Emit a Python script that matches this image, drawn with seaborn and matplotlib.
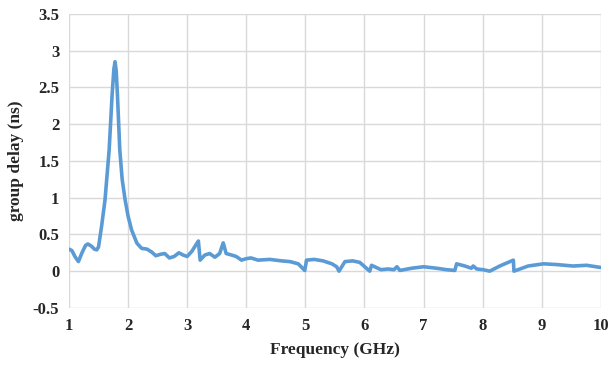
import matplotlib
matplotlib.use("Agg")
import matplotlib.pyplot as plt
import seaborn as sns
import pandas as pd

freq = [1.0, 1.05, 1.10, 1.16, 1.22, 1.28, 1.32, 1.38, 1.43, 1.47, 1.50, 1.55, 1.61, 1.68, 1.73,
        1.76, 1.78, 1.80, 1.82, 1.86, 1.90, 1.95, 2.00, 2.06, 2.15, 2.23, 2.32, 2.40, 2.47, 2.55,
        2.62, 2.70, 2.78, 2.86, 2.93, 3.00, 3.08, 3.15, 3.19, 3.22, 3.30, 3.38, 3.47, 3.55,
        3.61, 3.66, 3.75, 3.83, 3.92, 4.00, 4.08, 4.2, 4.4, 4.6, 4.74, 4.88, 4.99, 5.02, 5.15,
        5.3, 5.45, 5.53, 5.57, 5.67, 5.8, 5.92, 6.09, 6.12, 6.2, 6.28, 6.4, 6.5, 6.55, 6.6,
        6.8, 7.0, 7.22, 7.39, 7.53, 7.56, 7.7, 7.81, 7.84, 7.9, 8.01, 8.12, 8.29, 8.52, 8.53,
        8.77, 9.03, 9.25, 9.53, 9.76, 10.0]
delay = [0.30, 0.28, 0.20, 0.13, 0.25, 0.35, 0.37, 0.34, 0.30, 0.29, 0.33, 0.60, 0.97, 1.65, 2.40,
         2.75, 2.85, 2.72, 2.40, 1.65, 1.25, 0.97, 0.75, 0.56, 0.38, 0.31, 0.30, 0.26, 0.21, 0.23,
         0.24, 0.18, 0.20, 0.25, 0.22, 0.20, 0.27, 0.36, 0.41, 0.15, 0.22, 0.24, 0.19, 0.24,
         0.385, 0.24, 0.22, 0.20, 0.15, 0.17, 0.18, 0.15, 0.16, 0.14, 0.13, 0.10, 0.01, 0.15, 0.16,
         0.14, 0.10, 0.06, 0.00, 0.13, 0.14, 0.12, 0.00, 0.08, 0.05, 0.02, 0.03, 0.02, 0.06, 0.01,
         0.04, 0.06, 0.04, 0.02, 0.01, 0.10, 0.07, 0.04, 0.07, 0.03, 0.02, 0.00, 0.07, 0.15, 0.00,
         0.07, 0.10, 0.09, 0.07, 0.08, 0.05]

xticks = [1, 2, 3, 4, 5, 6, 7, 8, 9, 10]
yticks = [-0.5, 0, 0.5, 1, 1.5, 2, 2.5, 3, 3.5]
ytick_labels = ["-0.5", "0", "0.5", "1", "1.5", "2", "2.5", "3", "3.5"]

df = pd.DataFrame({"freq": freq, "delay": delay})

sns.set_theme(style="white")
plt.rcParams["font.family"] = ["Liberation Serif", "DejaVu Serif"]

fig = plt.figure(figsize=(6.12, 3.67), dpi=100)
ax = fig.add_axes([0.1127, 0.161, 0.869, 0.801])

sns.lineplot(data=df, x="freq", y="delay", ax=ax, color="#5B9BD5", linewidth=2.6)
ax.lines[0].set_solid_joinstyle("round")

ax.set_xlim(1, 10)
ax.set_ylim(-0.5, 3.5)
ax.set_xticks(xticks)
ax.set_xticklabels([str(t) for t in xticks], fontweight="bold", fontsize=12)
ax.set_yticks(yticks)
ax.set_yticklabels(ytick_labels, fontweight="bold", fontsize=12)
ax.grid(True, color="#D9D9D9", linewidth=1)
ax.set_axisbelow(True)
for s in ax.spines.values():
    s.set_visible(False)
ax.tick_params(length=0, pad=7)
ax.set_xlabel("Frequency (GHz)", fontweight="bold", fontsize=12.5, labelpad=6)
ax.set_ylabel("group delay (ns)", fontweight="bold", fontsize=12.5, labelpad=6)

fig.savefig("out.png", dpi=100)
